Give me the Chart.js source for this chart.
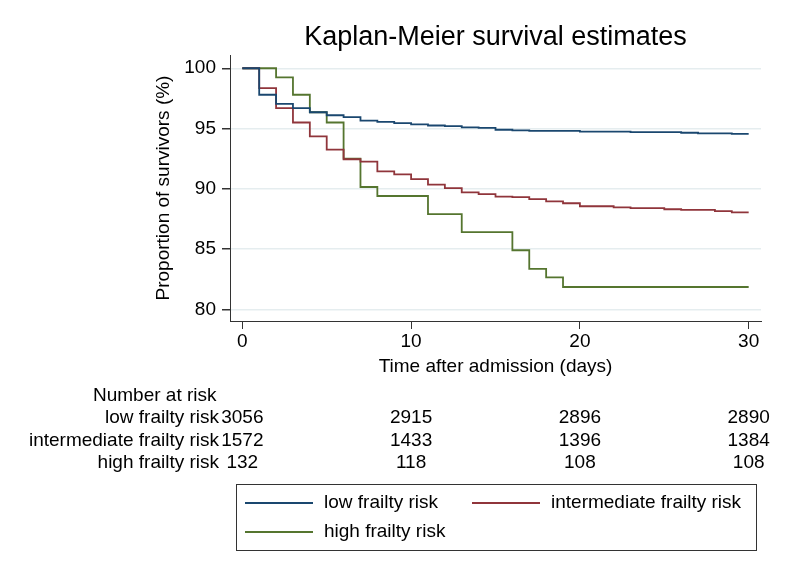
<!DOCTYPE html>
<html>
<head>
<meta charset="utf-8">
<title>Kaplan-Meier survival estimates</title>
<script src="https://cdn.jsdelivr.net/npm/chart.js@4.4.1/dist/chart.umd.min.js"></script>
<style>
  html, body { margin: 0; padding: 0; background: #fff; }
  #wrap { width: 794px; height: 577px; position: relative; }
</style>
</head>
<body>
<div id="wrap"><canvas id="kmChart" width="794" height="577"></canvas></div>
<script>
// Kaplan-Meier curves, values (percent surviving)
const groupNames = ['low frailty risk', 'intermediate frailty risk', 'high frailty risk'];
const groupColors = ['#1a476f', '#90353b', '#55752f'];

const lowTimes = [0, 1, 2, 3, 4, 5, 6, 7, 8, 9, 10, 11, 12, 13, 14, 15, 16, 17, 20, 23, 26, 27, 29, 30];
const lowSurv = [100, 97.8, 97.05, 96.7, 96.35, 96.1, 95.95, 95.65, 95.55, 95.45, 95.35, 95.25, 95.2, 95.1,
  95.05, 94.9, 94.85, 94.8, 94.75, 94.7, 94.65, 94.6, 94.55, 94.55];

const midTimes = [0, 1, 2, 3, 4, 5, 6, 7, 8, 9, 10, 11, 12, 13, 14, 15, 16, 17, 18, 19, 20, 22, 23, 25, 26, 28, 29, 30];
const midSurv = [100, 98.35, 96.7, 95.5, 94.35, 93.25, 92.45, 92.25, 91.45, 91.2, 90.8, 90.35, 90.05, 89.7,
  89.55, 89.35, 89.3, 89.15, 88.95, 88.8, 88.55, 88.45, 88.4, 88.3, 88.25, 88.15, 88.05, 88.05];

const highTimes = [0, 2, 3, 4, 5, 6, 7, 8, 11, 13, 16, 17, 18, 19, 30];
const highSurv = [100, 99.25, 97.8, 96.35, 95.5, 92.5, 90.15, 89.4, 87.9, 86.4, 84.9, 83.35, 82.65, 81.85, 81.85];

// axis ticks
const xTicks = [0, 10, 20, 30];
const yTicks = [80, 85, 90, 95, 100];

// number at risk table (at xTicks)
const riskTimes = [0, 10, 20, 30];
const riskLow = [3056, 2915, 2896, 2890];
const riskMid = [1572, 1433, 1396, 1384];
const riskHigh = [132, 118, 108, 108];

const FONT = "'Liberation Sans', Arial, Helvetica, sans-serif";

function toPoints(times, surv) {
  return times.map((t, i) => ({ x: t, y: surv[i] }));
}

// title, risk table and boxed legend
const extrasPlugin = {
  id: 'kmExtras',
  afterDraw(chart) {
    const ctx = chart.ctx;
    const area = chart.chartArea;
    const xs = chart.scales.x;
    ctx.save();
    ctx.fillStyle = '#000';

    // title
    ctx.font = '27px ' + FONT;
    ctx.textAlign = 'center';
    ctx.textBaseline = 'middle';
    ctx.fillText('Kaplan-Meier survival estimates', (area.left + area.right) / 2, 38);

    // number at risk
    ctx.font = '19px ' + FONT;
    ctx.textAlign = 'left';
    ctx.fillText('Number at risk', 93, 396);
    const rows = [riskLow, riskMid, riskHigh];
    const rowY = [418, 440.5, 463];
    rows.forEach((vals, r) => {
      ctx.textAlign = 'right';
      ctx.fillText(groupNames[r], 219, rowY[r]);
      ctx.textAlign = 'center';
      vals.forEach((v, i) => {
        ctx.fillText(String(v), xs.getPixelForValue(riskTimes[i]), rowY[r]);
      });
    });

    // legend
    ctx.strokeStyle = '#333';
    ctx.lineWidth = 1;
    ctx.strokeRect(236.5, 484.5, 520, 66);
    const legendPos = [[245, 503], [472, 503], [245, 532]];
    groupNames.forEach((name, i) => {
      const [lx, ly] = legendPos[i];
      ctx.strokeStyle = groupColors[i];
      ctx.lineWidth = 1.8;
      ctx.beginPath();
      ctx.moveTo(lx, ly);
      ctx.lineTo(lx + 68, ly);
      ctx.stroke();
      ctx.textAlign = 'left';
      ctx.fillText(name, lx + 79, ly);
    });
    ctx.restore();
  }
};

new Chart(document.getElementById('kmChart'), {
  type: 'line',
  data: {
    datasets: [
      { label: groupNames[0], data: toPoints(lowTimes, lowSurv) },
      { label: groupNames[1], data: toPoints(midTimes, midSurv) },
      { label: groupNames[2], data: toPoints(highTimes, highSurv) }
    ].map((d, i) => Object.assign(d, {
      borderColor: groupColors[i],
      backgroundColor: groupColors[i],
      borderWidth: 1.8,
      stepped: true,
      pointRadius: 0,
      fill: false
    }))
  },
  options: {
    responsive: false,
    animation: false,
    layout: { padding: { left: 150, right: 33, top: 55, bottom: 195 } },
    plugins: {
      legend: { display: false },
      title: { display: false },
      tooltip: { enabled: false }
    },
    scales: {
      x: {
        type: 'linear',
        min: -0.73,
        max: 30.73,
        afterBuildTicks: (scale) => { scale.ticks = xTicks.map(v => ({ value: v })); },
        afterFit: (scale) => { scale.height = 61; },
        border: { color: '#333', width: 1 },
        grid: { drawOnChartArea: false, tickLength: 8, tickColor: '#333' },
        ticks: { color: '#000', padding: 1, font: { family: FONT, size: 19 } },
        title: {
          display: true,
          text: 'Time after admission (days)',
          color: '#000',
          padding: { top: 4, bottom: 4 },
          font: { family: FONT, size: 19 }
        }
      },
      y: {
        min: 79.03,
        max: 101.1,
        afterBuildTicks: (scale) => { scale.ticks = yTicks.map(v => ({ value: v })); },
        afterFit: (scale) => { scale.width = 80; },
        border: { color: '#333', width: 1 },
        grid: { color: '#e5edef', lineWidth: 1.5, tickLength: 8, tickColor: '#333' },
        ticks: { color: '#000', padding: 6, font: { family: FONT, size: 19 } },
        title: {
          display: true,
          text: 'Proportion of survivors (%)',
          color: '#000',
          padding: { top: 2, bottom: 2 },
          font: { family: FONT, size: 19 }
        }
      }
    }
  },
  plugins: [extrasPlugin]
});
</script>
</body>
</html>
